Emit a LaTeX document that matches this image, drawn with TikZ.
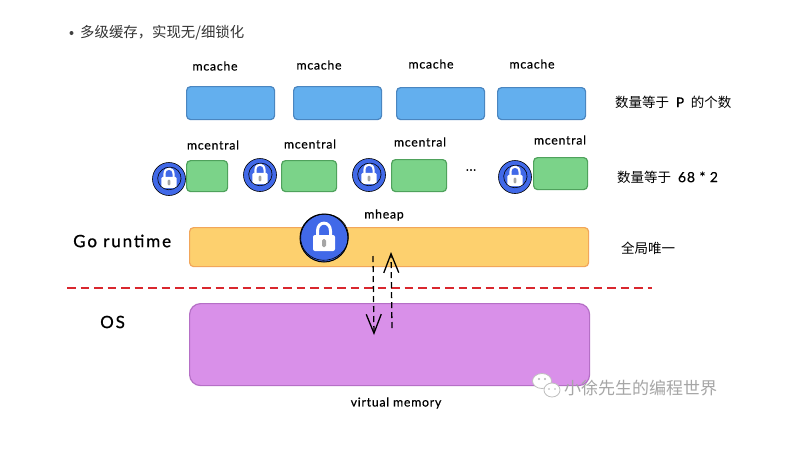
\documentclass[tikz,border=0pt]{standalone}
\usepackage{fontspec}
\setmainfont{Lato}
\newfontfamily\cjk{Noto Sans CJK SC}
\newfontfamily\handfont[LetterSpace=6,FakeBold=0.4]{Lato}
\newfontfamily\bighand[LetterSpace=11,FakeBold=0.9]{Lato}
\usetikzlibrary{arrows.meta,positioning,shapes.geometric}
\definecolor{cacheF}{HTML}{63AFEE}
\definecolor{cacheD}{HTML}{4A86C0}
\definecolor{centF}{HTML}{7BD389}
\definecolor{centD}{HTML}{4FA25C}
\definecolor{heapF}{HTML}{FDD06E}
\definecolor{heapD}{HTML}{F2A65A}
\definecolor{osF}{HTML}{D990E9}
\definecolor{osD}{HTML}{B56FC6}
\definecolor{lockB}{HTML}{4169E8}
\definecolor{redD}{HTML}{D9272E}
\tikzset{
  box/.style={draw,line width=1.2pt,rounded corners=4pt,anchor=north west,inner sep=0pt},
  cachebox/.style={box,fill=cacheF,draw=cacheD,minimum width=88pt,minimum height=33pt},
  centralbox/.style={box,fill=centF,draw=centD},
  hand/.style={font=\handfont\fontsize{12.3}{12}\selectfont,text=black},
  big/.style={anchor=west,inner sep=0pt,font=\bighand\fontsize{17}{17}\selectfont,text=black},
  cn/.style={font=\cjk\fontsize{13.5}{14}\selectfont,text=black},
  lockc/.style={circle,fill=lockB,draw=black,line width=.6pt,inner sep=0pt},
  flow/.style={draw=black,line width=1.3pt,dash pattern=on 6pt off 4pt,-{Straight Barb[length=19pt,width=15pt,line width=1.3pt]}},
  pics/padlock/.style={code={
    \draw[white,line width=#1*3pt] (-6.5,0) -- (-6.5,-7) .. controls (-6.5,-17.5) and (6.5,-17.5) .. (6.5,-7) -- (6.5,0);
    \fill[white,rounded corners=#1*2pt] (-11,-3) rectangle (11,13);
    \fill[gray!70,rounded corners=#1*1.5pt] (-2,1) rectangle (2,9);
    \draw[black,line width=.6pt,rotate=20] (.8,-.6) ellipse[x radius=#1*24pt,y radius=#1*23pt];
  }}
}
\begin{document}
\begin{tikzpicture}[x=1pt,y=-1pt]
\useasboundingbox (0,0) rectangle (804,448);
\fill[white] (0,0) rectangle (804,448);
\fill[black!75] (71.5,33) circle (2pt);
\node[anchor=west,inner sep=0pt,font=\cjk\fontsize{14.4}{14}\selectfont,text=black!80] (title) at (80,33) {多级缓存，实现无/细锁化};

\node[cachebox] (c1) at (186,86) {};
\node[cachebox] (c2) at (293,86) {};
\node[cachebox,minimum height=32pt] (c3) at (396,87) {};
\node[cachebox,minimum height=32pt] (c4) at (497,87) {};
\node[hand] (lc1) at (215,66) {mcache};
\node[hand] (lc2) at (319,65) {mcache};
\node[hand] (lc3) at (431,64) {mcache};
\node[hand] (lc4) at (532,64) {mcache};
\node[cn,anchor=west,inner sep=0pt] (np) at (615,102) {数量等于 \;{\handfont P}\; 的个数};

\node[centralbox,minimum width=41pt,minimum height=31pt] (g1) at (186,160) {};
\node[centralbox,minimum width=55pt,minimum height=31pt] (g2) at (281,160) {};
\node[centralbox,minimum width=55pt,minimum height=32pt] (g3) at (391,159) {};
\node[centralbox,minimum width=54pt,minimum height=32pt] (g4) at (533,157) {};
\node[hand] (m1) at (213,145) {mcentral};
\node[hand] (m2) at (310,144) {mcentral};
\node[hand] (m3) at (420,142) {mcentral};
\node[hand] (m4) at (560,140) {mcentral};
\node[hand,inner sep=0pt] (dots) at (471,170) {...};
\node[cn,anchor=west,inner sep=0pt] (n68) at (617,177) {数量等于 \;{\handfont\fontsize{14}{14}\selectfont 68 * 2}};

\node[lockc,minimum size=33pt] (k1) at (169,179) {};
\node[lockc,minimum size=33pt] (k2) at (260,175) {};
\node[lockc,minimum size=33pt] (k3) at (369,175) {};
\node[lockc,minimum size=33pt] (k4) at (515,177) {};
\pic[scale=.7] at (k1) {padlock=.7};
\pic[scale=.7] at (k2) {padlock=.7};
\pic[scale=.7] at (k3) {padlock=.7};
\pic[scale=.7] at (k4) {padlock=.7};

\node[box,fill=heapF,draw=heapD,minimum width=399pt,minimum height=39pt] (heap) at (189,227) {};
\node[lockc,minimum size=48pt,line width=1pt] (k5) at (324,238) {};
\pic at (k5) {padlock=1};
\node[hand] (mh) at (384,215) {mheap};
\node[cn,anchor=west,inner sep=0pt] (one) at (621,248) {全局唯一};
\node[big] (rt) at (73,241) {Go runtime};

\node[box,fill=osF,draw=osD,rounded corners=11pt,minimum width=400pt,minimum height=82pt] (os) at (189,303) {};
\node[big] (oslab) at (100,322) {OS};
\node[hand] (vm) at (396,403) {virtual memory};

\coordinate (sepL) at (67,288);
\coordinate (sepR) at (652,288);
\draw[redD,line width=2.8pt,dash pattern=on 8.5pt off 5pt] (sepL) -- (sepR);

\coordinate (dA) at (373,256);
\coordinate (dB) at (374,335);
\coordinate (uA) at (392,328);
\coordinate (uB) at (391,252);
\draw[flow] (dA) -- (dB);
\draw[flow] (uA) -- (uB);

% watermark
\node[anchor=west,inner sep=0pt,font=\cjk\fontsize{17}{17}\selectfont,text=black!35] (wm) at (564,388) {小徐先生的编程世界};
\node[ellipse,fill=white,draw=black!25,line width=.8pt,minimum width=19pt,minimum height=15pt,inner sep=0pt] (w1) at (542,381) {};
\node[ellipse,fill=white,draw=black!25,line width=.8pt,minimum width=16pt,minimum height=14pt,inner sep=0pt] (w2) at (552,390) {};
\fill[black!30] (539,379) circle (1.1pt) (545,379) circle (1.1pt) (549,389) circle (.9pt) (555,389) circle (.9pt);
\end{tikzpicture}
\end{document}
